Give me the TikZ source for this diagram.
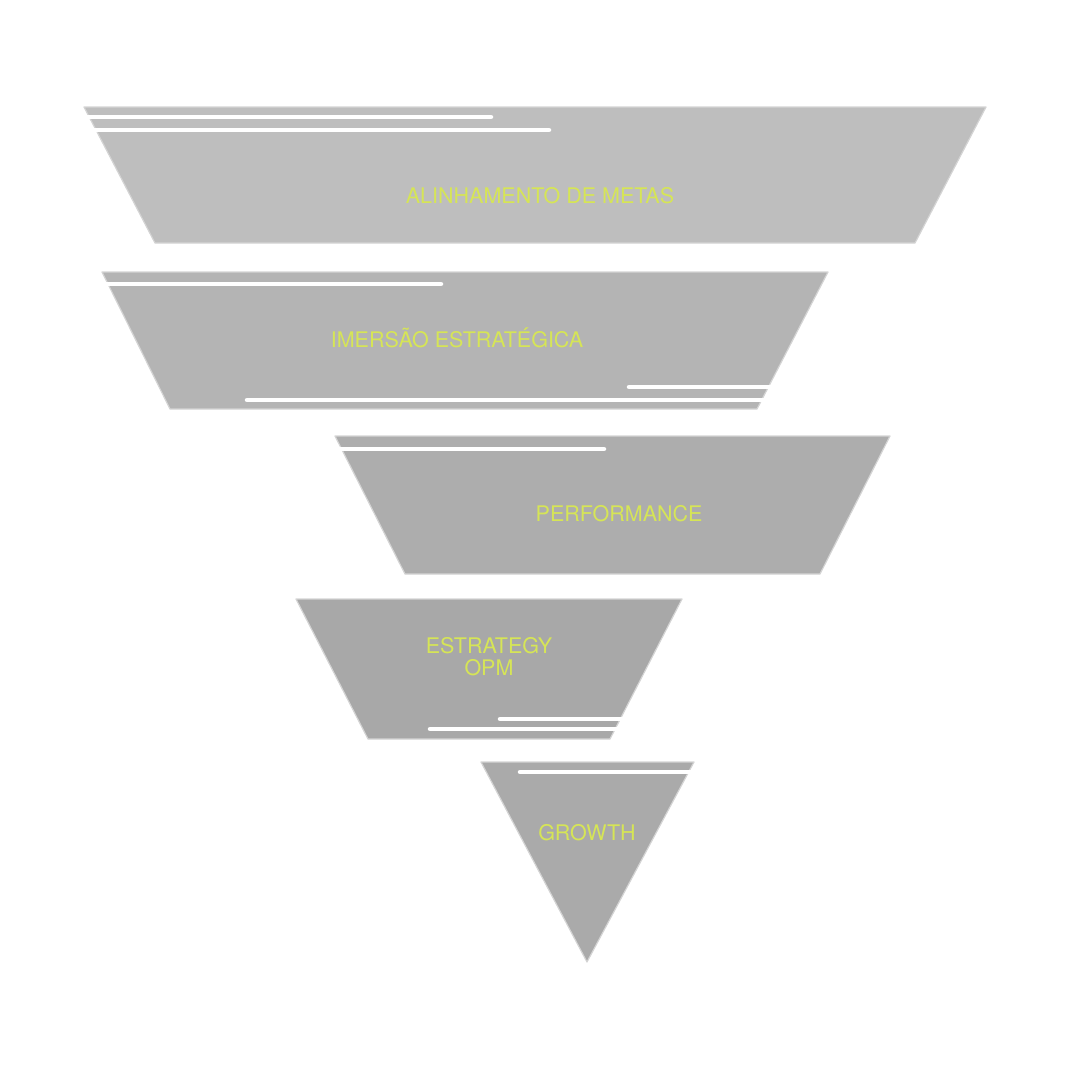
\documentclass[tikz,border=0pt]{standalone}
\usepackage{fontspec}
\setmainfont{TeX Gyre Heros}
\definecolor{lime}{RGB}{214,229,86}
\begin{document}
\begin{tikzpicture}[x=1pt, y=-1pt,
    band/.style={fill={rgb,255:red,#1;green,#1;blue,#1}, draw={rgb,255:red,212;green,212;blue,212}, line width=1.2pt, line join=round},
    cut/.style={draw=white, line width=4.5pt, line cap=round},
    tag/.style={text=lime, font=\fontsize{21.5}{22}\selectfont, align=center, inner sep=0pt}]
  \useasboundingbox (0,0) rectangle (1080,1080);
  % bands of the funnel
  \path[band=190] (84,107) -- (986,107) -- (915,243) -- (155,243) -- cycle;
  \path[band=180] (102,272) -- (828,272) -- (757,409) -- (170,409) -- cycle;
  \path[band=173] (335,436) -- (890,436) -- (820,574) -- (405,574) -- cycle;
  \path[band=168] (296,599) -- (682,599) -- (610,739) -- (368,739) -- cycle;
  \path[band=170] (481,762) -- (694,762) -- (587,962) -- cycle;
  % white cuts
  \draw[cut] (70,117) -- (491,117);
  \draw[cut] (70,130) -- (549,130);
  \draw[cut] (90,284) -- (441,284);
  \draw[cut] (629,387) -- (800,387);
  \draw[cut] (247,400) -- (800,400);
  \draw[cut] (320,449) -- (604,449);
  \draw[cut] (500,719) -- (700,719);
  \draw[cut] (430,729) -- (700,729);
  \draw[cut] (520,772) -- (720,772);
  % labels
  \node[tag] (metas) at (540,196) {ALINHAMENTO DE METAS};
  \node[tag] (imersao) at (457,338) {IMERSÃO ESTRATÉGICA};
  \node[tag] (perf) at (619,514) {PERFORMANCE};
  \node[tag] (opm) at (489,657) {ESTRATEGY\\OPM};
  \node[tag] (growth) at (587,833) {GROWTH};
\end{tikzpicture}
\end{document}
